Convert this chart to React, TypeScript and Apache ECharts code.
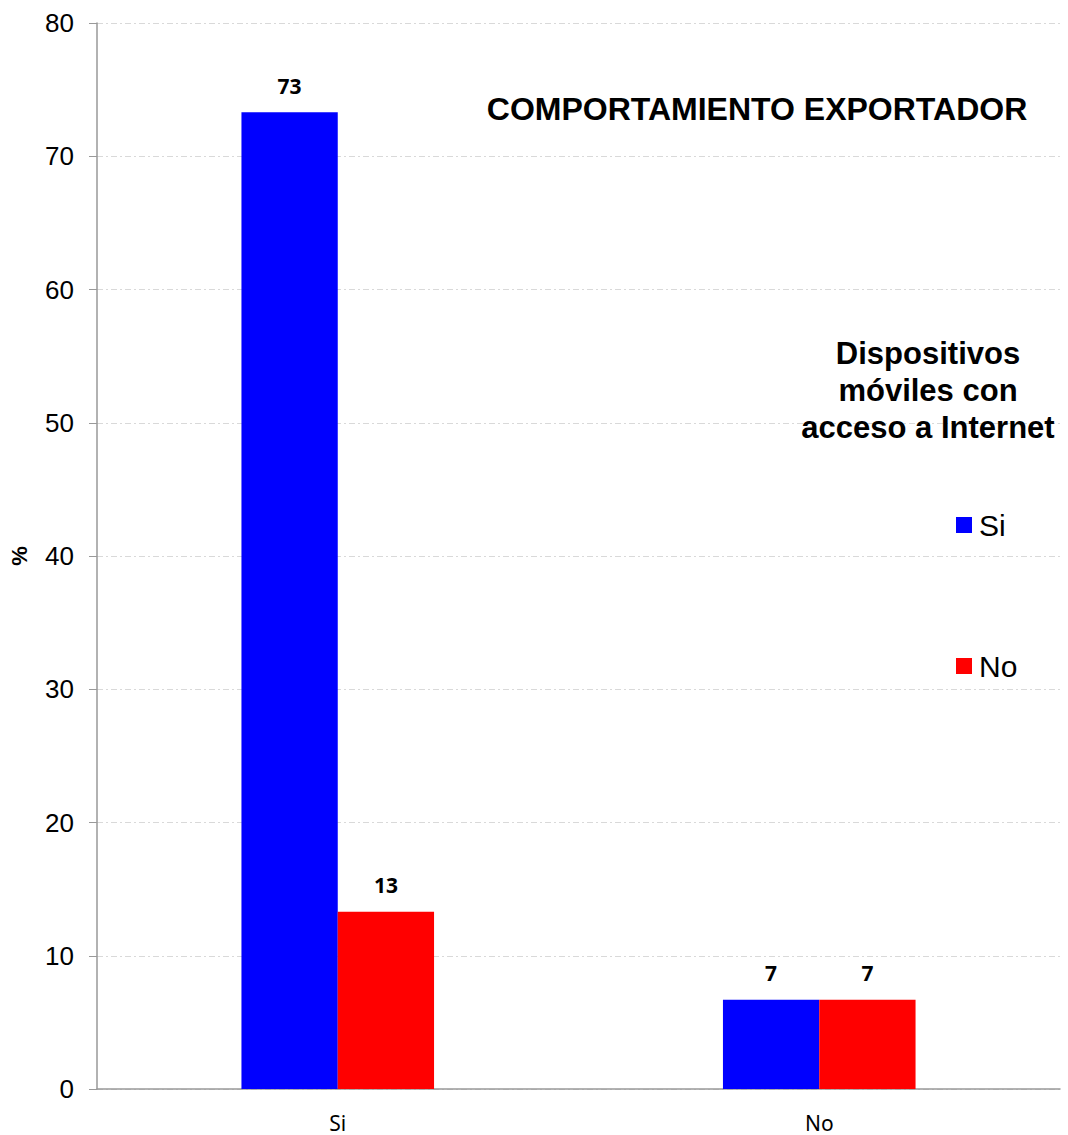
import React, { useEffect, useRef } from "react";
import * as echarts from "echarts";

const categories = ["Si", "No"];
const seriesNames = ["Si", "No"];
const siValues = [73.3, 6.7];
const noValues = [13.3, 6.7];
const colors = ["#0000FF", "#FF0000"];
const yTicks = { min: 0, max: 80, interval: 10 };

export default function App() {
  const ref = useRef<HTMLDivElement>(null);
  useEffect(() => {
    if (!ref.current) return;
    const chart = echarts.init(ref.current, undefined, { renderer: "svg" });
    const labelStyle = {
      show: true,
      position: "top",
      distance: 16,
      formatter: (p: any) => Math.round(p.value).toString(),
      fontFamily: "Noto Sans",
      fontWeight: "bold",
      fontSize: 21,
      color: "#000",
    };
    chart.setOption({
      animation: false,
      backgroundColor: "#fff",
      grid: { left: 92, right: 8, top: 23, bottom: 46, containLabel: false },
      title: {
        text: "COMPORTAMIENTO EXPORTADOR",
        left: 752,
        top: 88,
        textAlign: "center",
        textStyle: { fontFamily: "Liberation Sans", fontWeight: "bold", fontSize: 32, color: "#000" },
      },
      legend: {
        orient: "vertical",
        left: 951,
        top: 505,
        icon: "rect",
        itemWidth: 16,
        itemHeight: 16,
        itemGap: 111,
        data: seriesNames,
        textStyle: { fontFamily: "Liberation Sans", fontSize: 30, color: "#000", padding: [0, 0, 0, 2] },
      },
      graphic: [
        {
          type: "text",
          x: 928,
          y: 335,
          z: 100,
          style: {
            text: "Dispositivos\nmóviles con\nacceso a Internet",
            fontFamily: "Liberation Sans",
            fontWeight: "bold",
            fontSize: 31,
            lineHeight: 37,
            fill: "#000",
            align: "center",
            verticalAlign: "top",
          },
        },
      ],
      xAxis: {
        type: "category",
        data: categories,
        axisLine: { lineStyle: { color: "#999", width: 1.5 } },
        axisTick: { show: false },
        axisLabel: { fontFamily: "Noto Sans", fontSize: 21, color: "#000", margin: 23 },
      },
      yAxis: {
        type: "value",
        min: yTicks.min,
        max: yTicks.max,
        interval: yTicks.interval,
        name: "%",
        nameLocation: "middle",
        nameGap: 67,
        nameRotate: 90,
        nameTextStyle: { fontFamily: "Liberation Sans", fontWeight: "bold", fontSize: 22, color: "#000" },
        axisLine: { show: true, lineStyle: { color: "#999", width: 1.5 } },
        axisTick: { show: true, length: 8, lineStyle: { color: "#999" } },
        axisLabel: { fontFamily: "Liberation Sans", fontSize: 26, color: "#000", margin: 23 },
        splitLine: { lineStyle: { color: "#d9d9d9", type: [6, 3, 2, 3], width: 1 } },
      },
      series: [
        {
          name: seriesNames[0],
          type: "bar",
          data: siValues,
          barWidth: "20%",
          barGap: "0%",
          itemStyle: { color: colors[0] },
          label: labelStyle,
        },
        {
          name: seriesNames[1],
          type: "bar",
          data: noValues,
          barWidth: "20%",
          barGap: "0%",
          itemStyle: { color: colors[1] },
          label: labelStyle,
        },
      ],
    });
    return () => chart.dispose();
  }, []);
  return (
    <div
      ref={ref}
      style={{ position: "absolute", left: 0, top: 0, width: 1068, height: 1135 }}
    />
  );
}
